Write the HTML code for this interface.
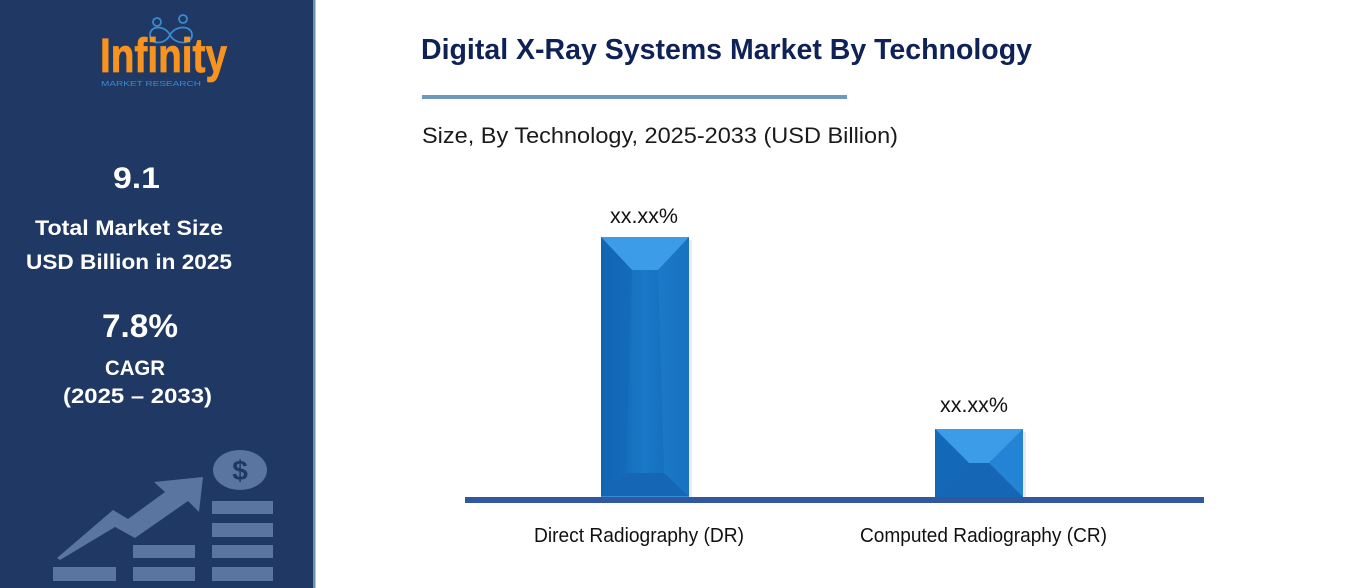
<!DOCTYPE html>
<html><head><meta charset="utf-8"><style>
html,body{margin:0;padding:0;background:#fff;}
svg{display:block;}
text{font-family:"Liberation Sans",sans-serif;}
</style></head><body>
<svg width="1351" height="588" viewBox="0 0 1351 588" xmlns="http://www.w3.org/2000/svg">
<defs>
<linearGradient id="body" x1="0" y1="0" x2="1" y2="0">
<stop offset="0" stop-color="#0f62ae"/><stop offset="0.5" stop-color="#1a78c8"/><stop offset="1" stop-color="#1066b3"/>
</linearGradient>
</defs>
<rect x="0" y="0" width="313" height="588" fill="#1f3864"/>
<rect x="313" y="0" width="2.5" height="588" fill="#6a93ad"/>
<!-- logo -->
<g fill="none" stroke="#3b8ad0" stroke-width="1.8">
<circle cx="157" cy="22" r="4"/><circle cx="183" cy="19" r="4"/>
<path d="M150 35 C150 25,165 25,170 35 C175 45,192 45,192 35 C192 25,175 25,170 35 C165 45,150 45,150 35 Z"/>
</g>
<text x="100" y="72" font-size="48" font-weight="bold" fill="#f7931e" textLength="127" lengthAdjust="spacingAndGlyphs" stroke="#f7931e" stroke-width="0.8">Infinity</text>
<text x="101" y="86" font-size="7" fill="#3b8ad0" textLength="100" lengthAdjust="spacingAndGlyphs">MARKET RESEARCH</text>
<!-- sidebar text -->
<g fill="#ffffff" font-weight="bold">
<text x="113" y="188" font-size="30" textLength="47" lengthAdjust="spacingAndGlyphs">9.1</text>
<text x="35" y="235" font-size="21" textLength="188" lengthAdjust="spacingAndGlyphs">Total Market Size</text>
<text x="26" y="269" font-size="21" textLength="206" lengthAdjust="spacingAndGlyphs">USD Billion in 2025</text>
<text x="102" y="337" font-size="32" textLength="76" lengthAdjust="spacingAndGlyphs">7.8%</text>
<text x="105" y="375" font-size="21" textLength="60" lengthAdjust="spacingAndGlyphs">CAGR</text>
<text x="63" y="403" font-size="21" textLength="149" lengthAdjust="spacingAndGlyphs">(2025 – 2033)</text>
</g>
<!-- bottom graphic -->
<g fill="#5a76a0">
<rect x="53" y="567" width="63" height="14"/>
<rect x="133" y="567" width="62" height="14"/>
<rect x="212" y="567" width="61" height="14"/>
<rect x="133" y="545" width="62" height="13"/>
<rect x="212" y="545" width="61" height="13"/>
<rect x="212" y="523" width="61" height="14"/>
<rect x="212" y="501" width="61" height="13"/>
<ellipse cx="240" cy="470" rx="27" ry="20"/>
<polygon points="57,558 113,510 128,519 165,492 154,482 203,477 199,512 188,501 135,538 115,527 60,560"/>
</g>
<text x="240" y="480" font-size="28" font-weight="bold" fill="#1f3864" text-anchor="middle">$</text>
<!-- title -->
<text x="421" y="59" font-size="29" font-weight="bold" fill="#0e2257" textLength="611" lengthAdjust="spacingAndGlyphs">Digital X-Ray Systems Market By Technology</text>
<rect x="422" y="95" width="425" height="4" fill="#6b98bc"/>
<text x="422" y="143" font-size="22" fill="#1a1a1a" textLength="476" lengthAdjust="spacingAndGlyphs">Size, By Technology, 2025-2033 (USD Billion)</text>
<!-- bar 1 -->
<rect x="604" y="240" width="88" height="262" fill="#000" opacity="0.08"/>
<rect x="601" y="237" width="88" height="260" fill="url(#body)"/>
<polygon points="601,237 689,237 658,270 632,270" fill="#3d9ce8"/>
<polygon points="601,497 689,497 664,473 626,473" fill="#1566b4"/>
<polygon points="601,237 632,270 626,473 601,497" fill="#1468b8" opacity="0.6"/>
<polygon points="689,237 658,270 664,473 689,497" fill="#1e7fd0" opacity="0.5"/>
<line x1="601" y1="497" x2="689" y2="497" stroke="#5aaef0" stroke-width="1"/>
<!-- bar 2 -->
<rect x="938" y="432" width="88" height="70" fill="#000" opacity="0.08"/>
<rect x="935" y="429" width="88" height="68" fill="#1a74c6"/>
<polygon points="935,429 1023,429 989,463 969,463" fill="#3d9ce8"/>
<polygon points="935,429 969,463 935,497" fill="#1468b8"/>
<polygon points="1023,429 989,463 1023,497" fill="#2384d6"/>
<polygon points="935,497 969,463 989,463 1023,497" fill="#1566b4"/>
<!-- axis -->
<rect x="465" y="497" width="739" height="6" fill="#3058a0"/>
<!-- labels -->
<text x="610" y="223" font-size="21" fill="#111" textLength="68" lengthAdjust="spacingAndGlyphs">xx.xx%</text>
<text x="940" y="412" font-size="21" fill="#111" textLength="68" lengthAdjust="spacingAndGlyphs">xx.xx%</text>
<text x="534" y="542" font-size="20" fill="#111" textLength="210" lengthAdjust="spacingAndGlyphs">Direct Radiography (DR)</text>
<text x="860" y="542" font-size="20" fill="#111" textLength="247" lengthAdjust="spacingAndGlyphs">Computed Radiography (CR)</text>
</svg>
</body></html>
